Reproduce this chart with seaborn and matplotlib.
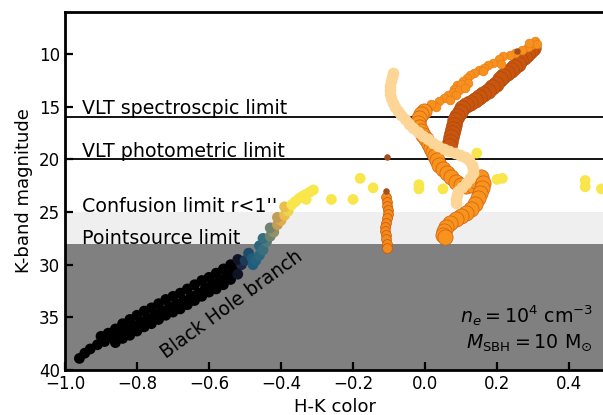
# Colour-magnitude diagram of the stellar population with the black hole branch
import matplotlib
matplotlib.use("Agg")
import matplotlib.pyplot as plt
import seaborn as sns
from matplotlib.colors import LinearSegmentedColormap

# Black hole branch (coloured along H-K) plus the scattered yellow points
bh_hk = [-0.96, -0.945, -0.93, -0.91, -0.89, -0.87, -0.85, -0.83, -0.81, -0.79, -0.77, -0.75,
         -0.73, -0.71, -0.69, -0.67, -0.65, -0.63, -0.61, -0.59, -0.57, -0.55, -0.53, -0.51,
         -0.90, -0.88, -0.86, -0.84, -0.82, -0.80, -0.78, -0.76, -0.74, -0.72, -0.70, -0.68,
         -0.66, -0.64, -0.62, -0.60, -0.58, -0.56, -0.54, -0.52,
         -0.86, -0.84, -0.82, -0.80, -0.78, -0.76, -0.74, -0.72, -0.70, -0.68, -0.66, -0.64,
         -0.62, -0.60, -0.58, -0.56, -0.54, -0.52,
         -0.50, -0.49, -0.48, -0.478, -0.47, -0.46, -0.46, -0.45, -0.44, -0.45, -0.43, -0.42,
         -0.43, -0.41, -0.40, -0.41, -0.39, -0.38, -0.39, -0.37, -0.36, -0.35, -0.34, -0.33,
         -0.32, -0.31,
         -0.33, -0.26, -0.20, -0.18, -0.144, -0.017, -0.017, 0.05, 0.144, 0.20, 0.215,
         0.445, 0.445, 0.49]
bh_k = [38.9, 38.4, 38.0, 37.6, 37.3, 36.9, 36.5, 36.2, 35.8, 35.4, 35.1, 34.7,
        34.4, 34.0, 33.7, 33.4, 33.0, 32.7, 32.2, 31.8, 31.4, 31.0, 30.5, 30.0,
        36.8, 36.5, 36.1, 35.6, 35.2, 34.8, 34.4, 34.1, 33.7, 33.3, 33.0, 32.7,
        32.3, 31.9, 31.5, 31.2, 30.8, 30.4, 30.0, 29.5,
        37.4, 37.0, 36.7, 36.3, 35.9, 35.6, 35.2, 34.8, 34.5, 34.2, 33.8, 33.4,
        33.0, 32.6, 32.3, 31.9, 31.4, 30.9,
        29.6, 28.9, 29.4, 30.0, 29.6, 29.1, 28.2, 28.6, 27.8, 27.5, 27.3, 26.9,
        26.5, 26.2, 25.8, 25.5, 25.3, 24.9, 24.5, 24.3, 24.0, 23.7, 23.5, 23.3,
        23.1, 22.9,
        23.8, 23.8, 23.8, 21.8, 22.7, 22.4, 22.8, 22.8, 19.4, 21.9, 21.8,
        22.0, 22.6, 22.8]

# Dark orange track
dark_hk = [0.300, 0.292, 0.283, 0.274, 0.265, 0.257, 0.248, 0.238, 0.228, 0.218, 0.207,
           0.196, 0.185, 0.174, 0.162, 0.150, 0.138, 0.126, 0.114, 0.104, 0.096, 0.089,
           0.084, 0.080, 0.077, 0.074, 0.071, 0.069, 0.067]
dark_k = [9.4, 9.7, 10.0, 10.3, 10.6, 10.9, 11.2, 11.5, 11.8, 12.1, 12.4,
          12.8, 13.1, 13.5, 13.8, 14.1, 14.4, 14.6, 14.8, 15.1, 15.5, 15.9,
          16.3, 16.7, 17.1, 17.5, 17.9, 18.3, 18.7]

# Orange track, upper scattered part and thick lower part
orange_top_hk = [0.305, 0.295, 0.285, 0.27, 0.25, 0.235, 0.218, 0.205, 0.19, 0.175, 0.163,
                 0.15, 0.135, 0.125, 0.118, 0.105, 0.09, 0.08, 0.077, 0.065, 0.052, 0.04,
                 0.025, 0.008, 0.31, 0.29, 0.21, 0.16, 0.12, 0.10, 0.095, 0.11, 0.085,
                 0.07, 0.03, 0.017]
orange_top_k = [8.8, 9.1, 9.3, 9.6, 9.9, 10.1, 10.2, 10.5, 10.8, 11.0, 11.3,
                11.5, 11.8, 12.0, 12.3, 12.6, 12.9, 13.3, 13.6, 13.9, 14.2, 14.5,
                14.8, 15.1, 9.0, 8.9, 10.9, 11.6, 12.7, 12.8, 13.4, 13.2, 13.9,
                14.4, 15.0, 14.7]
orange_hk = [-0.003, -0.011, -0.018, -0.02, -0.018, -0.012, -0.005, 0.003, 0.01, 0.016,
             0.022, 0.027, 0.032, 0.04, 0.05, 0.06, 0.072, 0.086, 0.10, 0.115, 0.13,
             0.145, 0.155, 0.16, 0.158, 0.153, 0.148, 0.14, 0.128, 0.115, 0.10, 0.085,
             0.07, 0.058, 0.052, 0.05, 0.055]
orange_k = [15.4, 15.7, 16.1, 16.5, 16.9, 17.3, 17.7, 18.1, 18.5, 18.9,
            19.3, 19.7, 20.1, 20.5, 20.9, 21.3, 21.7, 22.1, 22.4, 22.5, 22.4,
            22.1, 21.7, 22.2, 22.7, 23.2, 23.7, 24.2, 24.7, 25.1, 25.4, 25.7,
            26.0, 26.4, 26.8, 27.2, 27.4]

# Light peach track
peach_hk = [-0.088, -0.091, -0.094, -0.096, -0.097, -0.096, -0.094, -0.09, -0.083, -0.075,
            -0.066, -0.056, -0.045, -0.033, -0.02, -0.006, 0.008, 0.022, 0.037, 0.052,
            0.067, 0.082, 0.097, 0.11, 0.122, 0.13, 0.134, 0.132, 0.125, 0.115, 0.103,
            0.093, 0.088, 0.086, 0.087]
peach_k = [11.8, 12.2, 12.6, 13.0, 13.4, 13.8, 14.2, 14.6, 15.0, 15.4,
           15.8, 16.2, 16.6, 17.0, 17.4, 17.8, 18.1, 18.4, 18.7, 19.0,
           19.2, 19.4, 19.6, 19.8, 20.1, 20.5, 20.9, 21.3, 21.8, 22.2, 22.6,
           23.0, 23.4, 23.8, 24.1]

# Short vertical orange track near H-K = -0.1
stub_hk = [-0.108, -0.106, -0.105, -0.104, -0.103, -0.106, -0.108, -0.110, -0.111, -0.109,
           -0.107, -0.106, -0.105]
stub_k = [23.6, 24.0, 24.4, 24.8, 25.2, 25.6, 26.0, 26.4, 26.8, 27.2, 27.6, 28.0, 28.4]
brown_hk = [-0.105, -0.108, 0.256]
brown_k = [19.8, 23.0, 9.7]

sns.set_style("ticks")
plt.rcParams["font.family"] = ["DejaVu Sans"]
plt.rcParams["text.color"] = "black"
plt.rcParams["axes.labelcolor"] = "black"

fig = plt.figure(figsize=(6.03, 4.15), dpi=100)
ax = fig.add_axes([0.1078, 0.1084, 0.8955, 0.8627])

# limits and shaded regions
ax.axhspan(25, 28, color="#efefef", lw=0, zorder=0)
ax.axhspan(28, 40, color="#808080", lw=0, zorder=0)
ax.axhline(16, color="black", lw=1.3, zorder=1)
ax.axhline(20, color="black", lw=1.3, zorder=1)

bh_cmap = LinearSegmentedColormap.from_list(
    "bh", [(0.0, "black"), (0.12, "#1d2542"), (0.3, "#1d5b7b"), (0.48, "#2f6a80"),
           (0.63, "#6f8270"), (0.8, "#e0a74e"), (1.0, "#f8e64a")])
sns.scatterplot(x=bh_hk, y=bh_k, hue=bh_hk, palette=bh_cmap, hue_norm=(-0.53, -0.37),
                s=60, linewidth=0, legend=False, ax=ax, zorder=3)

sns.scatterplot(x=dark_hk, y=dark_k, color="#c9560f", edgecolor="#a9440a", linewidth=0.4,
                s=125, ax=ax, zorder=3)
sns.scatterplot(x=orange_top_hk, y=orange_top_k, color="#f7901e", edgecolor="#e27a14",
                linewidth=0.4, s=40, ax=ax, zorder=3)
sns.scatterplot(x=orange_hk, y=orange_k, color="#f8941e", edgecolor="#cf5f0f", linewidth=0.5,
                s=120, ax=ax, zorder=4)
sns.scatterplot(x=stub_hk, y=stub_k, color="#f28a1c", edgecolor="#c9560f", linewidth=0.5,
                s=50, ax=ax, zorder=4)
sns.scatterplot(x=brown_hk, y=brown_k, color="#a4501e", linewidth=0, s=22, ax=ax, zorder=4)
sns.scatterplot(x=peach_hk, y=peach_k, color="#fdd597", linewidth=0, s=70, ax=ax, zorder=5)

# labels on the plot
fs = 13.7
ax.text(-0.953, 15.7, "VLT spectroscpic limit", fontsize=fs, va="baseline", zorder=6)
ax.text(-0.953, 19.8, "VLT photometric limit", fontsize=fs, va="baseline", zorder=6)
ax.text(-0.953, 24.95, "Confusion limit r<1''", fontsize=fs, va="baseline", zorder=6)
ax.text(-0.953, 28.0, "Pointsource limit", fontsize=fs, va="baseline", zorder=6)
ax.text(-0.536, 33.8, "Black Hole branch", fontsize=13.5, rotation=36, ha="center",
        va="center", rotation_mode="anchor", zorder=6)
ax.text(0.467, 35.5, r"$n_e = 10^4\ \mathrm{cm}^{-3}$", fontsize=fs, ha="right",
        va="baseline", zorder=6)
ax.text(0.467, 37.9, r"$M_{\mathrm{SBH}} = 10\ \mathrm{M}_{\odot}$", fontsize=fs, ha="right",
        va="baseline", zorder=6)

ax.set_xlim(-1.0, 0.5)
ax.set_ylim(40, 6)
ax.set_xticks([-1.0, -0.8, -0.6, -0.4, -0.2, 0.0, 0.2, 0.4])
ax.set_yticks([10, 15, 20, 25, 30, 35, 40])
ax.set_xlabel("H-K color", fontsize=13)
ax.set_ylabel("K-band magnitude", fontsize=13)
ax.tick_params(direction="in", length=6, width=1.6, labelsize=12, colors="black")
for sp in ax.spines.values():
    sp.set_linewidth(2)
    sp.set_color("black")
    sp.set_visible(True)

fig.savefig("out.png", dpi=100)
